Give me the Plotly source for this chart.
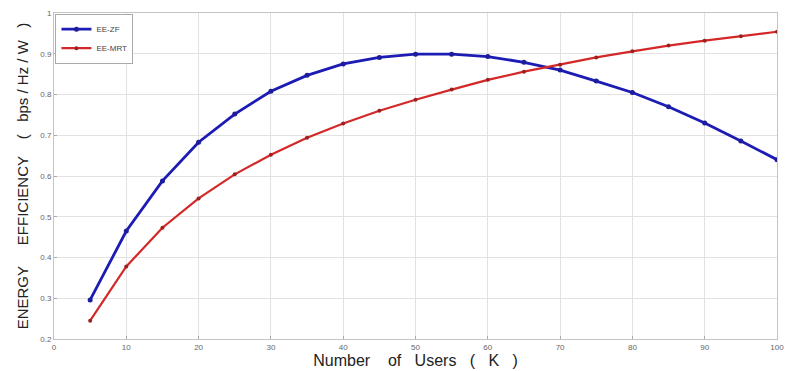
import plotly.graph_objects as go

users = [5, 10, 15, 20, 25, 30, 35, 40, 45, 50, 55, 60, 65, 70, 75, 80, 85, 90, 95, 100]
ee_zf = [0.296, 0.465, 0.588, 0.683, 0.752, 0.808, 0.847, 0.875, 0.891, 0.899,
         0.899, 0.893, 0.879, 0.860, 0.833, 0.805, 0.770, 0.730, 0.686, 0.640]
ee_mrt = [0.245, 0.378, 0.473, 0.545, 0.604, 0.652, 0.694, 0.729, 0.760, 0.787,
          0.812, 0.836, 0.856, 0.873, 0.891, 0.906, 0.920, 0.932, 0.943, 0.954]
x_ticks = [0, 10, 20, 30, 40, 50, 60, 70, 80, 90, 100]
y_ticks = [0.2, 0.3, 0.4, 0.5, 0.6, 0.7, 0.8, 0.9, 1.0]
y_tick_text = ["0.2", "0.3", "0.4", "0.5", "0.6", "0.7", "0.8", "0.9", "1"]

NB = "\u00a0"

fig = go.Figure()
fig.add_trace(go.Scatter(x=users, y=ee_zf, name="EE-ZF", mode="lines+markers",
                         line=dict(color="#1c1cb4", width=2.8),
                         marker=dict(size=5, color="#1c1c9c")))
fig.add_trace(go.Scatter(x=users, y=ee_mrt, name="EE-MRT", mode="lines+markers",
                         line=dict(color="#d42828", width=2.2),
                         marker=dict(size=4, color="#9c2020")))

axis_common = dict(showgrid=True, gridcolor="#e2e2e2", gridwidth=1,
                   showline=True, linecolor="#c4c4c4", linewidth=1, mirror=True,
                   ticks="inside", ticklen=3, tickcolor="#aaaaaa", zeroline=False,
                   tickfont=dict(family="Liberation Sans, Arial", size=8, color="#666666"))

fig.update_xaxes(range=[0, 100], tickvals=x_ticks, **axis_common,
                 title=dict(text=f"Number{NB*4}of{NB*3}Users{NB*3}({NB*3}K{NB*3})",
                            font=dict(family="Liberation Sans, Arial", size=16, color="#222222"),
                            standoff=0))
fig.update_yaxes(range=[0.2, 1.0], tickvals=y_ticks, ticktext=y_tick_text, **axis_common,
                 title=dict(text=f"ENERGY{NB*5}EFFICIENCY{NB*4}({NB*3}bps{NB}/{NB}Hz{NB}/{NB}W{NB*3})",
                            font=dict(family="Liberation Sans, Arial", size=15, color="#222222"),
                            standoff=8))

fig.update_layout(
    width=792, height=371,
    margin=dict(l=54, r=8, t=13, b=31),
    paper_bgcolor="white", plot_bgcolor="white",
    legend=dict(x=0.002, y=0.998, xanchor="left", yanchor="top",
                bgcolor="white", bordercolor="#aaaaaa", borderwidth=1,
                font=dict(family="Liberation Sans, Arial", size=8, color="#444444"),
                itemwidth=30, tracegroupgap=0),
    showlegend=True,
)

fig.write_html("out.html")
